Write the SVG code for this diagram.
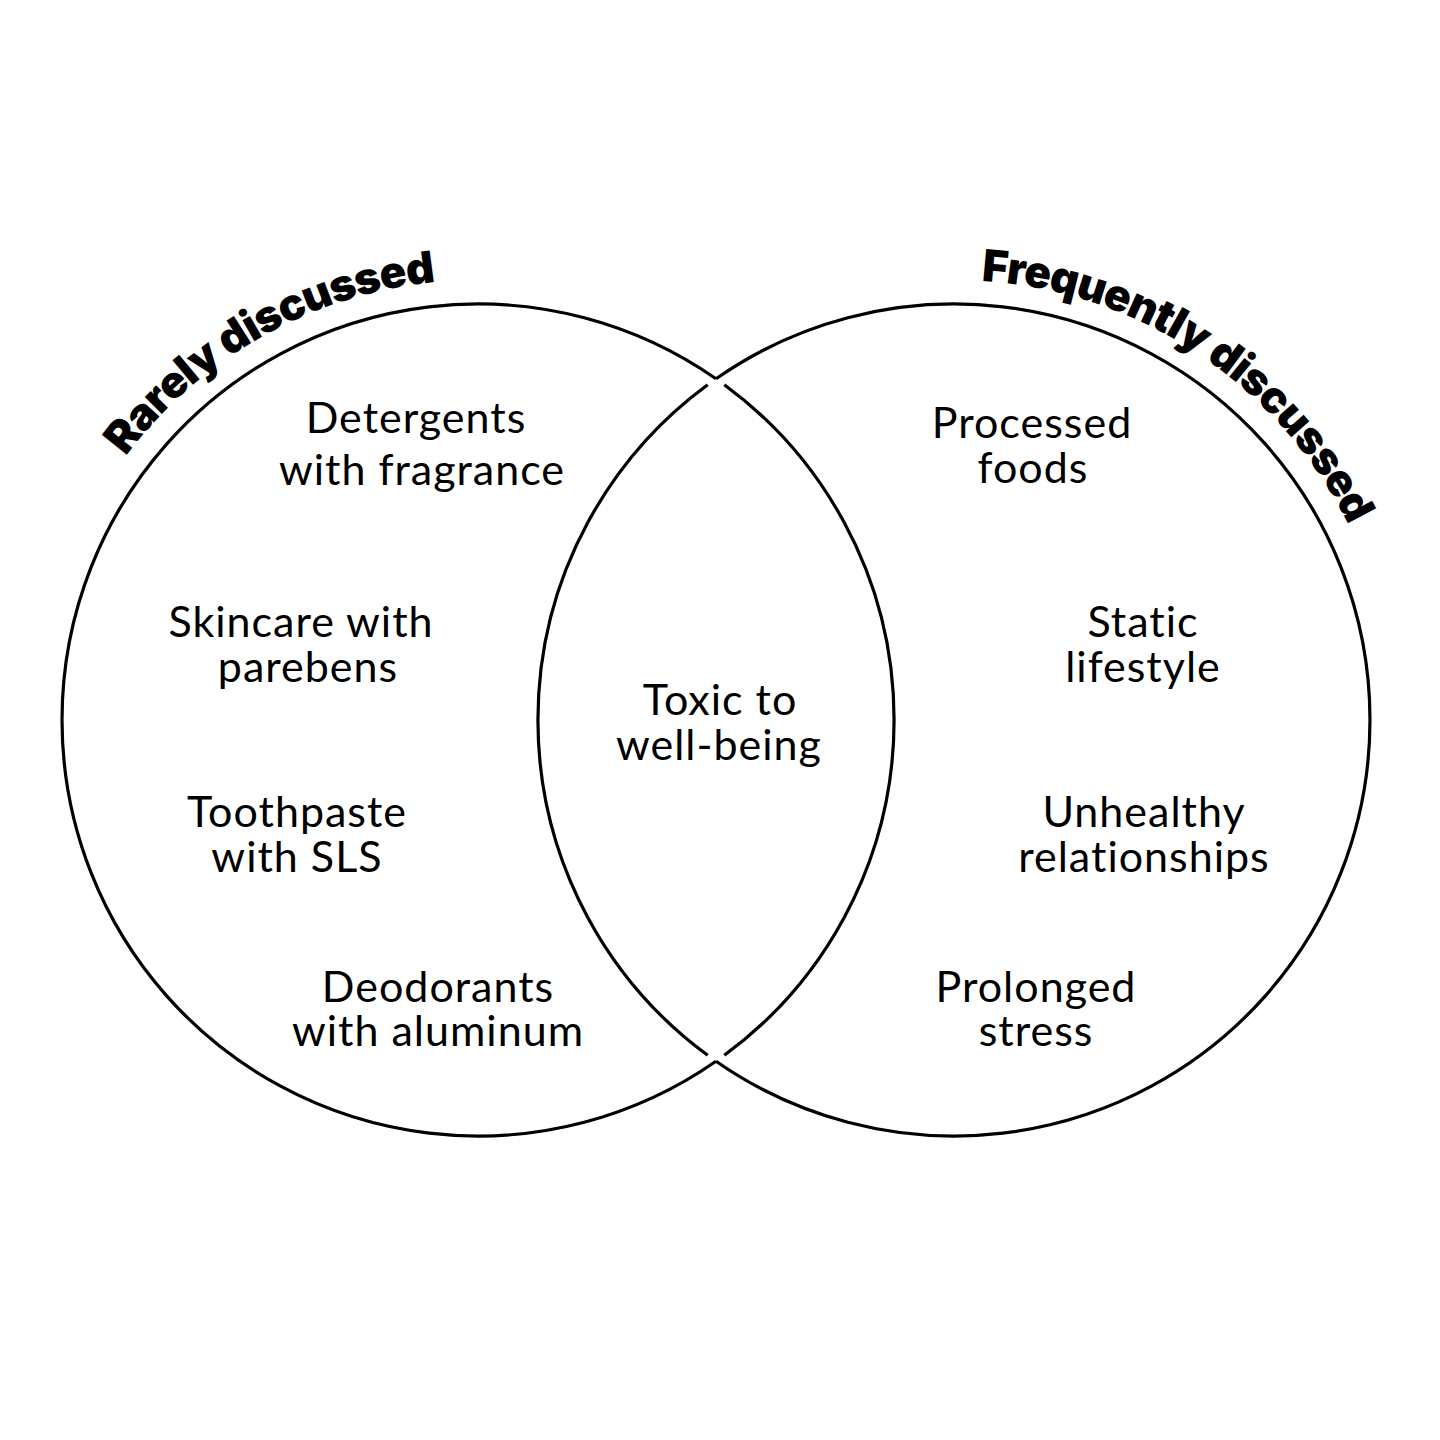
<svg xmlns="http://www.w3.org/2000/svg" xmlns:xlink="http://www.w3.org/1999/xlink" width="1440" height="1440" viewBox="0 0 1440 1440">
<style>
.ring{fill:none;stroke:#000;stroke-width:3.2;stroke-linecap:butt}
.lbl{font-family:Lato,"Liberation Sans",sans-serif;font-size:43px;fill:#000;text-anchor:middle;letter-spacing:1px}
.ttl{font-family:Inter,"Liberation Sans",sans-serif;font-weight:900;font-size:44px;fill:#000;letter-spacing:-0.9px}
</style>
<defs>
<path id="arcL" d="M 38 720 A 440 440 0 0 1 698 338.95"/>
<path id="arcR" d="M 572.95 500 A 440 440 0 0 1 1394 720"/>
</defs>
<rect width="1440" height="1440" fill="#fff"/>
<g id="connectors">
<path class="ring" d="M 724.3 384.7 A 416 416 0 0 1 724.3 1055.3"/>
<path class="ring" d="M 716 1061.2 A 416 416 0 1 1 716 378.8"/>
<path class="ring" d="M 716 378.8 A 416 416 0 1 1 716 1061.2"/>
<path class="ring" d="M 707.7 1055.3 A 416 416 0 0 1 707.7 384.7"/>
</g>
<g id="title-rarely"><text class="ttl"><textPath xlink:href="#arcL" href="#arcL" startOffset="50.5%" text-anchor="middle">Rarely discussed</textPath></text></g>
<g id="title-frequently"><text class="ttl"><textPath xlink:href="#arcR" href="#arcR" startOffset="62.4%" text-anchor="middle">Frequently discussed</textPath></text></g>
<g id="detergents"><text class="lbl" x="416" y="433">Detergents</text><text class="lbl" x="422" y="485">with fragrance</text></g>
<g id="skincare"><text class="lbl" x="301" y="637">Skincare with</text><text class="lbl" x="308" y="682">parebens</text></g>
<g id="toothpaste"><text class="lbl" x="297" y="827">Toothpaste</text><text class="lbl" x="297" y="872">with SLS</text></g>
<g id="deodorants"><text class="lbl" x="438" y="1002">Deodorants</text><text class="lbl" x="438" y="1046">with aluminum</text></g>
<g id="toxic"><text class="lbl" x="720" y="715">Toxic to</text><text class="lbl" x="719" y="760">well-being</text></g>
<g id="processed"><text class="lbl" x="1032" y="438">Processed</text><text class="lbl" x="1033" y="483">foods</text></g>
<g id="static"><text class="lbl" x="1143" y="637">Static</text><text class="lbl" x="1143" y="682">lifestyle</text></g>
<g id="unhealthy"><text class="lbl" x="1144" y="827">Unhealthy</text><text class="lbl" x="1144" y="872">relationships</text></g>
<g id="prolonged"><text class="lbl" x="1036" y="1002">Prolonged</text><text class="lbl" x="1036" y="1046">stress</text></g>
</svg>
